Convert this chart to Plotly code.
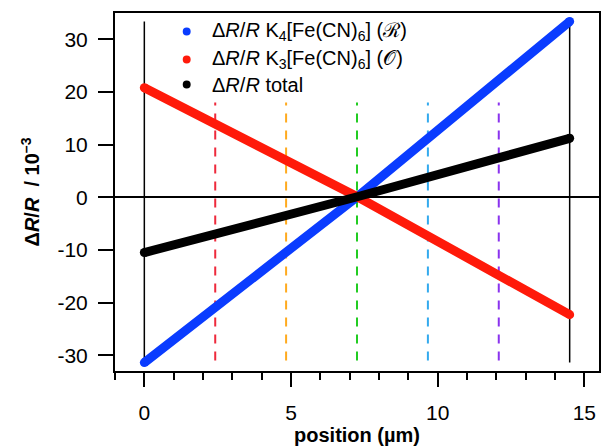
import plotly.graph_objects as go

# ---- data ----
positions = [0, 7.26, 14.5]
dR_K4 = [-31.4, 0.1, 33.4]      # ΔR/R K4[Fe(CN)6]
dR_K3 = [20.8, 0.1, -22.3]      # ΔR/R K3[Fe(CN)6]
dR_total = [-10.5, 0.1, 11.2]   # ΔR/R total

boundary_x = [0, 14.5]
boundary_y = [-31.4, 33.4]

marker_x = [2.417, 4.833, 7.25, 9.667, 12.083]
marker_colors = ["#ee2a3c", "#ffaa1e", "#22cc22", "#33aaee", "#8a33ee"]
marker_y = [-31.0, 18.0]

x_ticks = [0, 5, 10, 15]
y_ticks = [-30, -20, -10, 0, 10, 20, 30]
y_ticktext = ["-30", "-20", "-10", "0", "10", "20", "30"]

series_names = ["Δ<i>R</i>/<i>R</i> K<sub>4</sub>[Fe(CN)<sub>6</sub>] (ℛ)",
                "Δ<i>R</i>/<i>R</i> K<sub>3</sub>[Fe(CN)<sub>6</sub>] (𝒪)",
                "Δ<i>R</i>/<i>R</i> total"]
series_colors = ["#0a3cff", "#ff1a0a", "#000000"]

FONT = "Liberation Sans, Arial, sans-serif"

fig = go.Figure()

# boundary vertical lines
for bx in boundary_x:
    fig.add_shape(type="line", xref="x", yref="y", x0=bx, x1=bx,
                  y0=boundary_y[0], y1=boundary_y[1],
                  line=dict(color="black", width=1.5), layer="below")

# dashed marker lines
for mx, mc in zip(marker_x, marker_colors):
    fig.add_shape(type="line", xref="x", yref="y", x0=mx, x1=mx,
                  y0=marker_y[0], y1=marker_y[1],
                  line=dict(color=mc, width=2, dash="9px,8px"), layer="below")

for ys, col in zip([dR_K4, dR_K3, dR_total], series_colors):
    fig.add_trace(go.Scatter(x=positions, y=ys, mode="lines",
                             line=dict(color=col, width=9),
                             showlegend=False, hoverinfo="skip"))
    fig.add_trace(go.Scatter(x=[positions[0], positions[-1]], y=[ys[0], ys[-1]],
                             mode="markers", marker=dict(color=col, size=9),
                             showlegend=False, hoverinfo="skip"))

# custom legend
W, H = 602, 448
L, R, T, B = 115, 1, 13, 77
ph = H - T - B
pw = W - L - R
leg_rows = [31.5, 59.5, 84.5]
for name, col, yp in zip(series_names, series_colors, leg_rows):
    yy = (H - B - yp) / ph
    xd = (187 - L) / pw
    fig.add_shape(type="circle", xref="paper", yref="paper",
                  x0=xd - 4 / pw, x1=xd + 4 / pw, y0=yy - 4 / ph, y1=yy + 4 / ph,
                  fillcolor=col, line=dict(width=0))
    fig.add_annotation(xref="paper", yref="paper", x=(210 - L) / pw, y=yy,
                       xanchor="left", yanchor="middle", text=name, showarrow=False,
                       font=dict(family=FONT, size=20, color="black"))

fig.update_layout(
    width=W, height=H,
    margin=dict(l=L, r=R, t=T, b=B),
    paper_bgcolor="white", plot_bgcolor="white",
    font=dict(family=FONT, size=21, color="black"),
    xaxis=dict(range=[-1, 15.5], tickvals=x_ticks, ticks="outside", ticklen=14,
               tickwidth=2, tickcolor="black", showline=True, linecolor="black",
               linewidth=2, mirror=True, showgrid=False, zeroline=False,
               minor=dict(dtick=1, tick0=0, ticks="outside", ticklen=7,
                          tickwidth=2, tickcolor="black", showgrid=False),
               tickfont=dict(size=21), ticklabelstandoff=8,
               title=dict(text="<b>position (µm)</b>", font=dict(size=20), standoff=4)),
    yaxis=dict(range=[-33, 35], tickvals=y_ticks, ticktext=y_ticktext,
               ticks="outside", ticklen=15, tickwidth=2, tickcolor="black",
               showline=True, linecolor="black", linewidth=2, mirror=True,
               showgrid=False, zeroline=True, zerolinecolor="black", zerolinewidth=1.5,
               tickfont=dict(size=21), ticklabelstandoff=6,
               title=dict(text="<b>Δ<i>R</i>/<i>R</i>  / 10<sup>–3</sup></b>",
                          font=dict(size=20), standoff=12)),
)

fig.write_html("out.html")
